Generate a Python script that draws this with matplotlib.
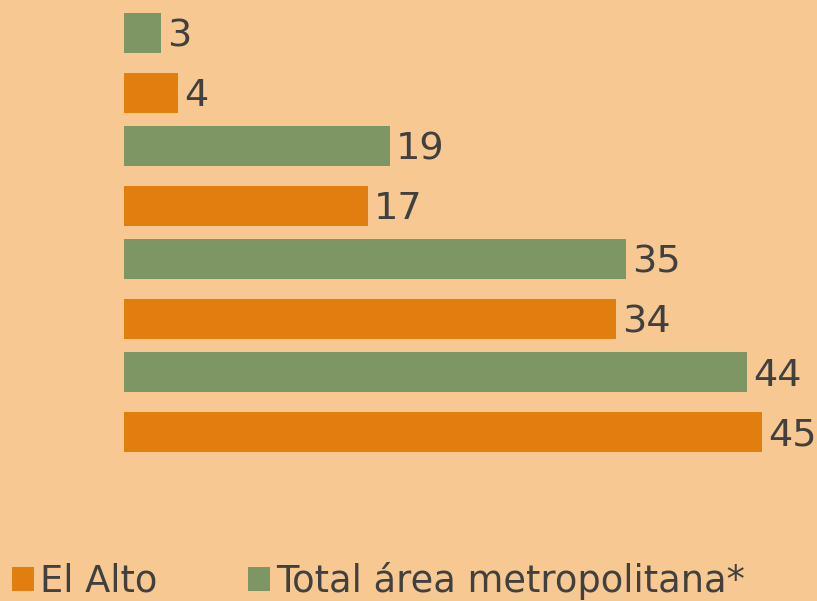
import matplotlib
matplotlib.use("Agg")
from matplotlib import pyplot as plt
from matplotlib.patches import Patch
import numpy as np

categories = ["A", "B", "C", "D"]
total_area = [2.59, 18.6, 35.1, 43.57]
el_alto = [3.78, 17.06, 34.4, 44.6]
series_names = ["El Alto", "Total área metropolitana*"]

bg_color = "#F7C891"
green = "#7E9664"
orange = "#E07F10"
text_color = "#404040"

W, H = 817, 601
fig = plt.figure(figsize=(W / 100, H / 100), dpi=100)
fig.patch.set_facecolor(bg_color)

# axes: x=0 at pixel 124, ~14.3 px per unit; category pitch 113 px
ax_left, ax_right = 124, 817
ax_top, ax_bottom = 0, 470
ax = fig.add_axes([ax_left / W, 1 - ax_bottom / H, (ax_right - ax_left) / W, (ax_bottom - ax_top) / H])
ax.set_facecolor(bg_color)
px_per_unit = 14.3
ax.set_xlim(0, (ax_right - ax_left) / px_per_unit)
pitch, c0 = 113.0, 63.0
ax.set_ylim((ax_bottom - c0) / pitch, (ax_top - c0) / pitch)

y = np.arange(len(categories))
h = 0.354
off = 0.265
b1 = ax.barh(y - off, total_area, height=h, color=green)
b2 = ax.barh(y + off, el_alto, height=h, color=orange)

for bars in (b1, b2):
    for rect in bars:
        val = rect.get_width()
        ax.annotate(f"{round(val)}", (val, rect.get_y() + rect.get_height() / 2),
                    xytext=(4.5, -2.5), textcoords="offset points",
                    va="center", ha="left", fontsize=27.5, color=text_color)

ax.axis("off")

handles = [Patch(facecolor=orange), Patch(facecolor=green)]
fig.legend(handles, series_names, loc="lower left", bbox_to_anchor=(12 / W, 1 / H),
           ncol=2, frameon=False, fontsize=26.5, labelcolor=text_color,
           handlelength=0.6, handleheight=0.6, handletextpad=0.17,
           columnspacing=2.46, borderaxespad=0, borderpad=0)

fig.savefig("out.png", dpi=100, facecolor=bg_color)
